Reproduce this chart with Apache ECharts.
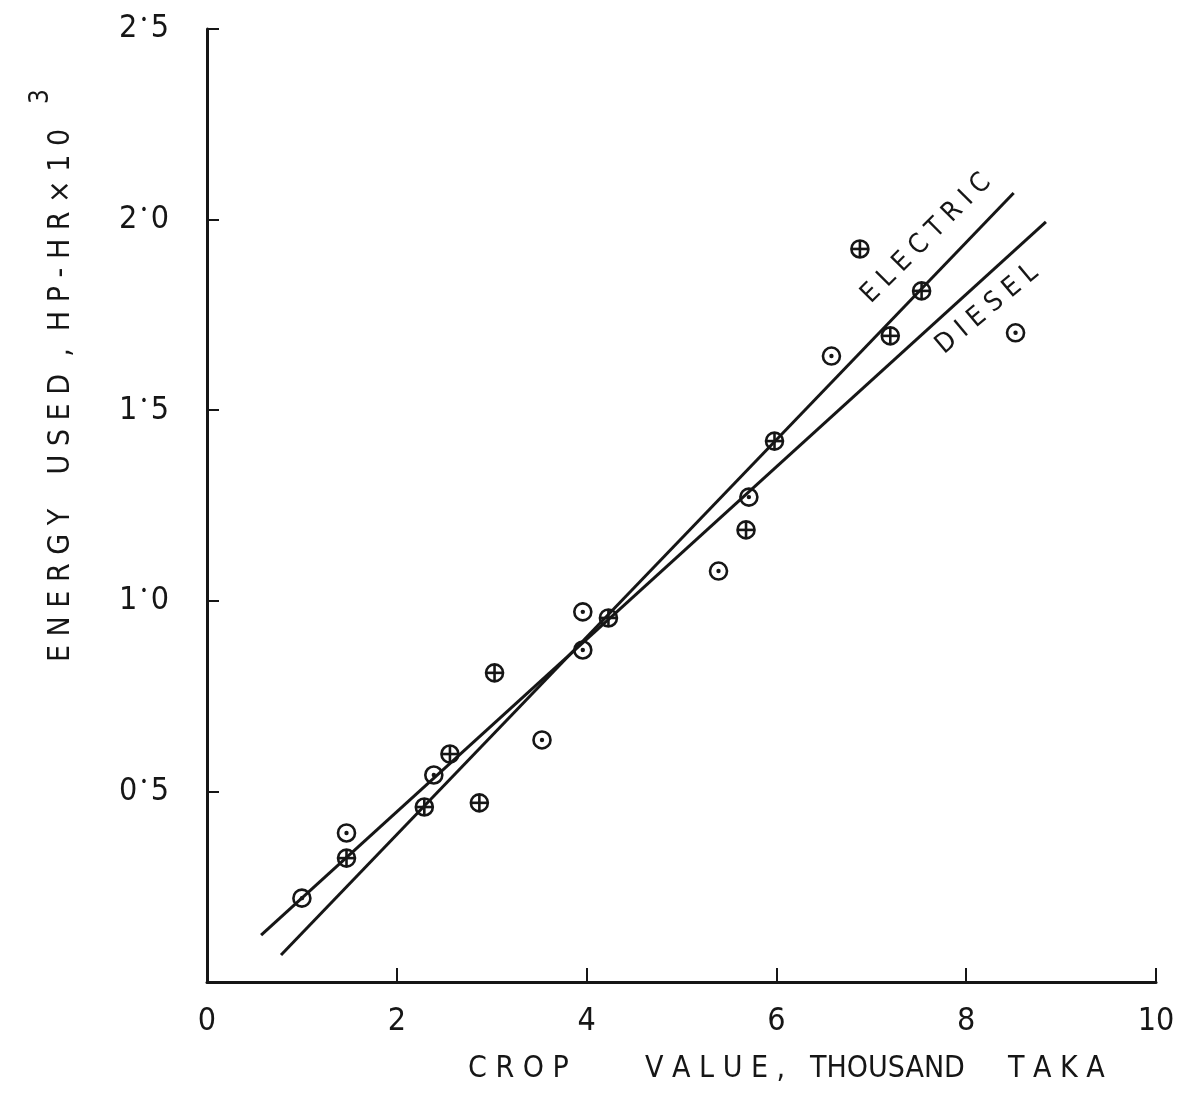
<!DOCTYPE html>
<html>
<head>
<meta charset="utf-8">
<script src="https://cdn.jsdelivr.net/npm/echarts@6/dist/echarts.min.js"></script>
<style>
  html, body { margin: 0; padding: 0; background: #fff; }
  #chart { width: 1184px; height: 1097px; }
</style>
</head>
<body>
<div id="chart"></div>
<script>
// Observed points: crop value (thousand taka) vs energy used (HP-HR x 10^3)
const electricX = [1.47, 2.29, 2.56, 2.87, 3.03, 4.23, 5.68, 5.98, 6.88, 7.20, 7.53];
const electricY = [0.325, 0.459, 0.598, 0.470, 0.811, 0.955, 1.186, 1.419, 1.923, 1.695, 1.813];
const dieselX = [1.00, 1.47, 2.39, 3.53, 3.96, 3.96, 5.39, 5.71, 6.58, 8.52];
const dieselY = [0.220, 0.391, 0.543, 0.635, 0.971, 0.871, 1.078, 1.272, 1.642, 1.703];

// Fitted lines (end points)
const electricLineX = [0.78, 8.50];
const electricLineY = [0.071, 2.07];
const dieselLineX = [0.57, 8.84];
const dieselLineY = [0.123, 1.994];

// Line names placed beside the fitted lines: [x, y, text, angle in degrees]
const lineLabels = [
  [7.58, 1.950, 'E L E C T R I C', 45],
  [8.22, 1.765, 'D I E S E L', 40]
];

const xTicks = [0, 2, 4, 6, 8, 10];
const yTicks = [0, 0.5, 1.0, 1.5, 2.0, 2.5];

// x-axis title pieces with their left edges
const xTitleWords = [['C R O P', 468], ['V A L U E ,', 645], ['THOUSAND', 810], ['T A K A', 1008]];

const FONT = '"Liberation Sans Narrow", "DejaVu Sans Condensed", "Liberation Sans", sans-serif';
const INK = '#161616';

const zip = (a, b) => a.map((v, i) => [v, b[i]]);

function markerItem(kind) {
  return function (params, api) {
    const p = api.coord([api.value(0), api.value(1)]);
    const r = 8.5;
    const stroke = { stroke: INK, lineWidth: 2.6, fill: null };
    const children = [{ type: 'circle', shape: { cx: p[0], cy: p[1], r: r }, style: stroke }];
    if (kind === 'cross') {
      children.push({ type: 'line', shape: { x1: p[0] - r, y1: p[1], x2: p[0] + r, y2: p[1] }, style: stroke });
      children.push({ type: 'line', shape: { x1: p[0], y1: p[1] - r, x2: p[0], y2: p[1] + r }, style: stroke });
    } else {
      children.push({ type: 'circle', shape: { cx: p[0], cy: p[1], r: 2.2 }, style: { fill: INK } });
    }
    return { type: 'group', children: children };
  };
}

const graphics = xTitleWords.map(w => ({
  type: 'text', left: w[1], top: 1054,
  style: { text: w[0], fontFamily: FONT, fontSize: 30, fill: INK }
}));
graphics.push(
  {
    type: 'text', x: 46, y: 662, rotation: Math.PI / 2,
    style: {
      text: 'E N E R G Y    U S E D  ,  H P - H R \u00D7 1 0',
      fontFamily: FONT, fontSize: 30, fill: INK, textVerticalAlign: 'top'
    }
  },
  {
    type: 'text', x: 28, y: 104, rotation: Math.PI / 2,
    style: { text: '3', fontFamily: FONT, fontSize: 26, fill: INK, textVerticalAlign: 'top' }
  }
);

const chart = echarts.init(document.getElementById('chart'), null, { renderer: 'canvas' });

chart.setOption({
  backgroundColor: '#ffffff',
  animation: false,
  grid: { left: 207, right: 28, top: 29, bottom: 115, containLabel: false },
  xAxis: {
    type: 'value',
    min: 0, max: 10, interval: 2,
    axisLine: { show: true, onZero: false, lineStyle: { color: INK, width: 3 } },
    axisTick: { show: true, inside: true, length: 14, lineStyle: { color: INK, width: 2 } },
    axisLabel: {
      margin: 24, color: INK, fontFamily: FONT, fontSize: 32,
      formatter: v => xTicks.includes(v) ? String(v) : ''
    },
    splitLine: { show: false }
  },
  yAxis: {
    type: 'value',
    min: 0, max: 2.5, interval: 0.5,
    axisLine: { show: true, onZero: false, lineStyle: { color: INK, width: 3 } },
    axisTick: { show: true, inside: true, length: 12, lineStyle: { color: INK, width: 2 } },
    axisLabel: {
      margin: 38, color: INK, fontFamily: FONT, fontSize: 32,
      formatter: v => {
        if (v === 0 || !yTicks.includes(v)) return '';
        const parts = v.toFixed(1).split('.');
        return '{n|' + parts[0] + '}{d|\u2022}{n|' + parts[1] + '}';
      },
      rich: {
        n: { fontFamily: FONT, fontSize: 32, color: INK },
        d: { fontFamily: FONT, fontSize: 14, color: INK, verticalAlign: 'top', padding: [0, 3, 0, 3] }
      }
    },
    splitLine: { show: false }
  },
  graphic: graphics,
  series: [
    {
      name: 'Electric fit', type: 'line', data: zip(electricLineX, electricLineY),
      symbol: 'none', lineStyle: { color: INK, width: 3 }, z: 2
    },
    {
      name: 'Diesel fit', type: 'line', data: zip(dieselLineX, dieselLineY),
      symbol: 'none', lineStyle: { color: INK, width: 3 }, z: 2
    },
    {
      name: 'Electric', type: 'custom', data: zip(electricX, electricY),
      renderItem: markerItem('cross'), z: 3
    },
    {
      name: 'Diesel', type: 'custom', data: zip(dieselX, dieselY),
      renderItem: markerItem('dot'), z: 3
    },
    {
      name: 'Line names', type: 'custom', data: lineLabels,
      renderItem: function (params, api) {
        const p = api.coord([api.value(0), api.value(1)]);
        const item = lineLabels[params.dataIndex];
        return {
          type: 'text', x: p[0], y: p[1], rotation: item[3] * Math.PI / 180,
          style: {
            text: item[2], fontFamily: FONT, fontSize: 27, fill: INK,
            textAlign: 'center', textVerticalAlign: 'middle'
          }
        };
      },
      z: 4
    }
  ]
});
</script>
</body>
</html>
